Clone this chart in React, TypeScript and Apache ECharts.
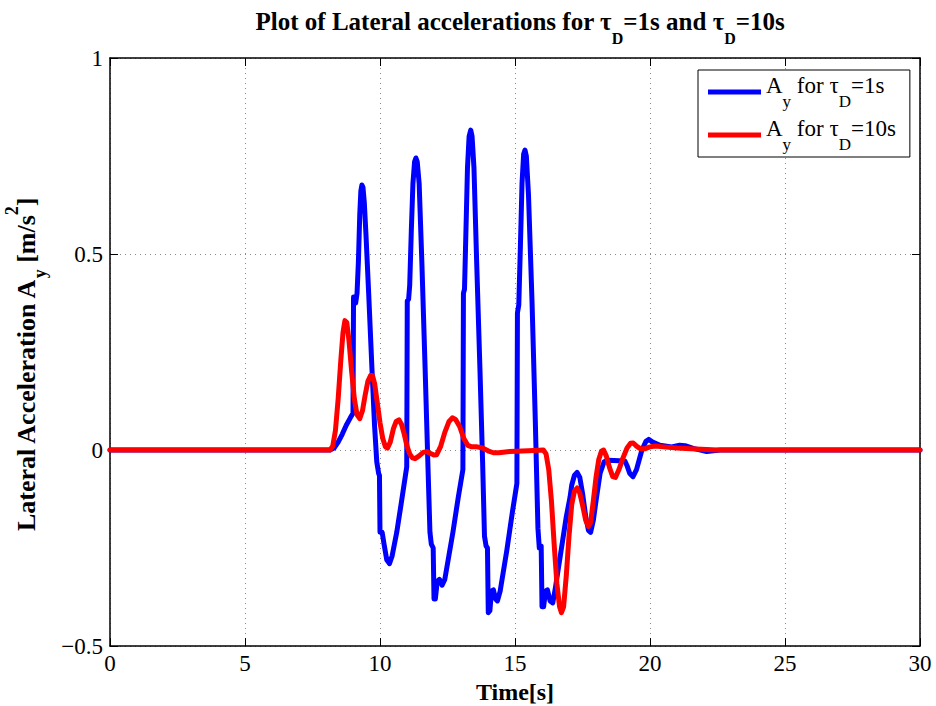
import React, { useEffect, useRef } from "react";
import * as echarts from "echarts";

const timeBlue = [
  0, 8.15, 8.3, 8.45, 8.6, 8.75, 8.9, 9.0, 9.02, 9.06, 9.1, 9.15, 9.2, 9.25, 9.29, 9.33,
  9.37, 9.42, 9.48, 9.58, 9.7, 9.8, 9.88, 9.95, 9.98, 10.0, 10.08, 10.15, 10.25, 10.35,
  10.45, 10.62, 10.8, 10.99, 11.01, 11.06, 11.1, 11.16, 11.22, 11.28, 11.33, 11.38, 11.45,
  11.55, 11.67, 11.78, 11.85, 11.9, 11.97, 12.0, 12.05, 12.12, 12.2, 12.3, 12.4, 12.55,
  12.7, 12.9, 13.07, 13.09, 13.13, 13.18, 13.24, 13.3, 13.36, 13.41, 13.48, 13.58, 13.7,
  13.8, 13.87, 13.93, 13.98, 14.01, 14.07, 14.13, 14.2, 14.28, 14.35, 14.45, 14.7, 14.9,
  15.07, 15.09, 15.14, 15.2, 15.26, 15.32, 15.37, 15.42, 15.5, 15.63, 15.75, 15.85, 15.9,
  15.97, 16.0, 16.06, 16.13, 16.2, 16.3, 16.4, 16.5, 16.7, 16.9, 17.04, 17.1, 17.2, 17.3,
  17.4, 17.5, 17.62, 17.72, 17.8, 17.9, 18.0, 18.15, 18.3, 18.45, 19.07, 19.15, 19.25,
  19.37, 19.5, 19.7, 19.85, 19.95, 20.1, 20.37, 20.8, 21.1, 21.3, 21.6, 22.1, 22.6, 30,
];
const accBlue = [
  0, 0, 0.005, 0.02, 0.04, 0.063, 0.082, 0.094, 0.39, 0.39, 0.375, 0.4, 0.48, 0.6, 0.66,
  0.676, 0.67, 0.63, 0.55, 0.4, 0.21, 0.06, -0.03, -0.06, -0.065, -0.21, -0.21, -0.24,
  -0.28, -0.29, -0.27, -0.21, -0.13, -0.043, 0.38, 0.385, 0.42, 0.56, 0.68, 0.735, 0.745,
  0.735, 0.68, 0.48, 0.21, -0.05, -0.21, -0.24, -0.25, -0.38, -0.38, -0.335, -0.33, -0.345,
  -0.33, -0.27, -0.21, -0.12, -0.05, 0.4, 0.41, 0.55, 0.72, 0.8, 0.816, 0.8, 0.72, 0.48,
  0.21, -0.03, -0.22, -0.245, -0.25, -0.415, -0.41, -0.36, -0.357, -0.38, -0.385, -0.36,
  -0.255, -0.16, -0.085, 0.35, 0.37, 0.52, 0.68, 0.755, 0.765, 0.75, 0.65, 0.38, 0.08, -0.2,
  -0.25, -0.245, -0.4, -0.4, -0.36, -0.357, -0.385, -0.39, -0.35, -0.26, -0.17, -0.12,
  -0.09, -0.065, -0.057, -0.07, -0.11, -0.17, -0.205, -0.21, -0.18, -0.13, -0.06, -0.03,
  -0.026, -0.028, -0.04, -0.06, -0.068, -0.05, 0.0, 0.022, 0.027, 0.02, 0.012, 0.008, 0.012,
  0.011, 0.004, -0.004, 0, 0,
];

const timeRed = [
  0, 8.15, 8.25, 8.35, 8.45, 8.55, 8.63, 8.7, 8.77, 8.85, 8.95, 9.05, 9.15, 9.25, 9.35, 9.45,
  9.55, 9.65, 9.72, 9.8, 9.9, 10.0, 10.1, 10.2, 10.28, 10.38, 10.5, 10.6, 10.7, 10.8, 10.9,
  11.0, 11.1, 11.2, 11.3, 11.45, 11.6, 11.73, 11.85, 12.0, 12.1, 12.25, 12.4, 12.55, 12.68,
  12.8, 12.95, 13.1, 13.25, 13.4, 13.6, 13.8, 14.0, 14.2, 14.4, 14.8, 15.5, 16.05, 16.15,
  16.25, 16.35, 16.45, 16.55, 16.65, 16.72, 16.8, 16.9, 17.0, 17.1, 17.2, 17.3, 17.4, 17.5,
  17.62, 17.72, 17.8, 17.9, 18.0, 18.1, 18.2, 18.28, 18.38, 18.5, 18.62, 18.72, 18.85, 19.0,
  19.15, 19.28, 19.38, 19.5, 19.65, 19.8, 20.0, 20.2, 20.5, 21.0, 21.5, 22.5, 30,
];
const accRed = [
  0, 0, 0.01, 0.05, 0.13, 0.23, 0.3, 0.33, 0.325, 0.28, 0.2, 0.13, 0.09, 0.08, 0.1, 0.14,
  0.175, 0.19, 0.19, 0.17, 0.12, 0.07, 0.03, 0.008, 0.005, 0.02, 0.055, 0.073, 0.077, 0.065,
  0.04, 0.01, -0.01, -0.02, -0.022, -0.015, -0.006, -0.004, -0.008, -0.013, -0.012, 0.01,
  0.045, 0.072, 0.082, 0.078, 0.06, 0.03, 0.012, 0.008, 0.008, 0.005, -0.002, -0.007, -0.007,
  -0.004, -0.002, 0, -0.01, -0.05, -0.13, -0.24, -0.34, -0.4, -0.415, -0.4, -0.32, -0.22,
  -0.14, -0.105, -0.097, -0.11, -0.14, -0.18, -0.195, -0.185, -0.13, -0.07, -0.025, -0.003,
  0.0, -0.015, -0.045, -0.068, -0.07, -0.05, -0.02, 0.005, 0.017, 0.018, 0.01, 0.003, 0.003,
  0.008, 0.01, 0.008, 0.005, 0.003, 0, 0,
];

const xTicks = [0, 5, 10, 15, 20, 25, 30];
const yTicks = [-0.5, 0, 0.5, 1];

const SERIF = "Liberation Serif";

export default function App() {
  const ref = useRef<HTMLDivElement>(null);
  useEffect(() => {
    if (!ref.current) return;
    const chart = echarts.init(ref.current, null, { renderer: "svg" });
    const zip = (t: number[], a: number[]) => t.map((v, i) => [v, a[i]]);
    const gridLine = { show: true, lineStyle: { color: "#8a8a8a", type: [1, 4], width: 1 } };
    const tickRich = { t: { fontFamily: SERIF, fontSize: 23, color: "#000", fontWeight: "normal" } };
    const fmtX = (v: number) => "{t|" + v + "}";
    const fmtY = (v: number) => "{t|" + (v < 0 ? "\u2212" + Math.abs(v) : String(v)) + "}";
    const axisCommon = {
      type: "value",
      axisLine: { show: true, onZero: false, lineStyle: { color: "#000", width: 1.5 } },
      axisTick: { show: true, inside: true, length: 8, lineStyle: { color: "#000" } },
    };
    chart.setOption({
      animation: false,
      backgroundColor: "#fff",
      textStyle: { fontFamily: SERIF, color: "#000" },
      title: {
        text: "{b|Plot of Lateral accelerations for \u03c4}{s|D}{b|=1s and \u03c4}{s|D}{b|=10s}",
        left: 515,
        textAlign: "center",
        top: 4,
        textStyle: {
          rich: {
            b: { fontFamily: SERIF, fontWeight: "bold", fontSize: 25, color: "#000", lineHeight: 30, verticalAlign: "top" },
            s: { fontFamily: SERIF, fontWeight: "bold", fontSize: 16, color: "#000", lineHeight: 37, verticalAlign: "bottom" },
          },
        },
      },
      legend: {
        orient: "vertical",
        left: 698,
        top: 70,
        icon: "rect",
        itemWidth: 53,
        itemHeight: 5,
        itemGap: 7,
        padding: [4, 14, 4, 10],
        borderColor: "#000",
        borderWidth: 1,
        borderRadius: 0,
        backgroundColor: "#fff",
        formatter: (name: string) =>
          name === "blue"
            ? "{n|A}{s|y}{n| for \u03c4}{s|D}{n|=1s}"
            : "{n|A}{s|y}{n| for \u03c4}{s|D}{n|=10s}",
        textStyle: {
          rich: {
            n: { fontFamily: SERIF, fontSize: 23, color: "#000", lineHeight: 26, verticalAlign: "top" },
            s: { fontFamily: SERIF, fontSize: 17, color: "#000", lineHeight: 36, verticalAlign: "bottom" },
          },
        },
        data: ["blue", "red"],
      },
      grid: { left: 110, right: 16, top: 58, bottom: 60, containLabel: false, outerBoundsMode: "none" },
      xAxis: [
        {
          ...axisCommon,
          min: 0,
          max: 30,
          interval: 5,
          position: "bottom",
          axisLabel: { color: "#000", fontFamily: SERIF, fontSize: 23, margin: 6, formatter: fmtX, rich: tickRich },
          splitLine: gridLine,
          name: "Time[s]",
          nameLocation: "middle",
          nameGap: 31,
          nameTextStyle: { color: "#000", fontFamily: SERIF, fontSize: 24, fontWeight: "bold" },
        },
        {
          ...axisCommon,
          min: 0,
          max: 30,
          interval: 5,
          position: "top",
          axisLabel: { show: false },
          splitLine: { show: false },
        },
      ],
      yAxis: [
        {
          ...axisCommon,
          min: -0.5,
          max: 1,
          interval: 0.5,
          position: "left",
          axisLabel: { color: "#000", fontFamily: SERIF, fontSize: 23, margin: 7, formatter: fmtY, rich: tickRich },
          splitLine: gridLine,
        },
        {
          ...axisCommon,
          min: -0.5,
          max: 1,
          interval: 0.5,
          position: "right",
          axisLabel: { show: false },
          splitLine: { show: false },
        },
      ],
      graphic: [
        {
          type: "text",
          x: 26,
          y: 365,
          rotation: Math.PI / 2,
          style: {
            text: "{b|Lateral Acceleration A}{s|y}{b| [m/s}{p|2}{b|]}",
            align: "center",
            verticalAlign: "middle",
            rich: {
              b: { fontFamily: SERIF, fontWeight: "bold", fontSize: 26, fill: "#000", lineHeight: 30, verticalAlign: "middle" },
              s: { fontFamily: SERIF, fontWeight: "bold", fontSize: 18, fill: "#000", lineHeight: 46, verticalAlign: "bottom" },
              p: { fontFamily: SERIF, fontWeight: "bold", fontSize: 18, fill: "#000", lineHeight: 40, verticalAlign: "top" },
            },
          },
        },
      ],
      series: [
        {
          name: "blue",
          type: "line",
          data: zip(timeBlue, accBlue),
          showSymbol: false,
          symbol: "none",
          lineStyle: { color: "#0000ff", width: 5, cap: "round", join: "round" },
          itemStyle: { color: "#0000ff" },
          z: 3,
        },
        {
          name: "red",
          type: "line",
          data: zip(timeRed, accRed),
          showSymbol: false,
          symbol: "none",
          lineStyle: { color: "#ff0000", width: 5, cap: "round", join: "round" },
          itemStyle: { color: "#ff0000" },
          z: 4,
        },
      ],
    });
    return () => chart.dispose();
  }, []);
  return (
    <div
      ref={ref}
      style={{ position: "fixed", left: 0, top: 0, width: 936, height: 706, background: "#fff" }}
    />
  );
}
